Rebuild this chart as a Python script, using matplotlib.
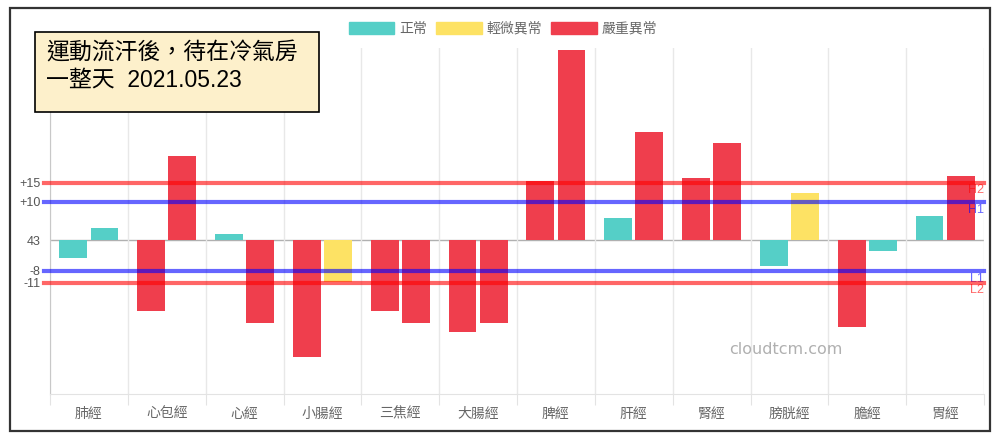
import numpy as np
import matplotlib
matplotlib.use('Agg')
import matplotlib.pyplot as plt
from matplotlib.patches import Rectangle, Patch
from matplotlib.transforms import blended_transform_factory

plt.rcParams['font.family'] = ['Liberation Sans', 'Noto Sans CJK TC', 'DejaVu Sans']

# meridian names and the two readings per meridian
meridians = ['肺經', '心包經', '心經', '小腸經', '三焦經', '大腸經',
             '脾經', '肝經', '腎經', '膀胱經', '膽經', '胃經']
left_values = [-4.5, -18.3, 1.6, -30.5, -18.4, -24.0, 15.4, 5.8, 16.3, -6.8, -22.7, 6.3]
right_values = [3.3, 21.8, -21.5, -10.9, -21.6, -21.6, 49.5, 28.2, 25.4, 12.4, -2.7, 16.6]
# 0 = 正常, 1 = 輕微異常, 2 = 嚴重異常
left_status = [0, 2, 0, 2, 2, 2, 2, 0, 2, 0, 2, 0]
right_status = [0, 2, 2, 1, 2, 2, 2, 2, 2, 1, 0, 2]

status_names = ['正常', '輕微異常', '嚴重異常']
status_colors = ['#55cfc7', '#fde264', '#ef3e4d']

ref_values = [15, 10, -8, -11]
ref_names = ['H2', 'H1', 'L1', 'L2']
ref_colors = ['#ff0000', '#0000ff', '#0000ff', '#ff0000']
ytick_values = [15, 10, 0, -8, -11]
ytick_labels = ['+15', '+10', '43', '-8', '-11']

title_text = '運動流汗後，待在冷氣房\n一整天  2021.05.23'

fig = plt.figure(figsize=(10, 4.43), dpi=100)
ax = fig.add_axes([0.05, 0.1106, 0.934, 0.781])

x = np.arange(len(meridians))
ax.bar(x - 0.2, left_values, width=0.356,
       color=[status_colors[s] for s in left_status], zorder=2)
ax.bar(x + 0.2, right_values, width=0.356,
       color=[status_colors[s] for s in right_status], zorder=2)

ax.set_xlim(-0.5, len(meridians) - 0.5)
ax.set_ylim(-40, 50)

# zero line
ax.axhline(0, color='#b0b0b0', lw=1, zorder=1)

# reference lines with labels
tr = blended_transform_factory(ax.transAxes, ax.transData)
for v, name, c in zip(ref_values, ref_names, ref_colors):
    ax.plot([-0.0064, 1.0], [v, v], color=c, alpha=0.6, lw=3,
            transform=tr, clip_on=False, zorder=3)
    ax.text(1.0, v - 0.5, name, color=c, alpha=0.6, fontsize=9,
            ha='right', va='top', transform=tr, zorder=3)

# x axis: grid lines at category boundaries, labels at centres
ax.set_xticks(np.arange(-0.5, len(meridians), 1))
ax.set_xticklabels([])
ax.tick_params(axis='x', which='major', length=8, color='#e3e3e3')
ax.set_xticks(x, minor=True)
ax.set_xticklabels(meridians, minor=True, fontsize=10, color='#666666')
ax.tick_params(axis='x', which='minor', length=0, pad=9)
ax.grid(axis='x', which='major', color='#e8e8e8', lw=1, zorder=0)

ax.set_yticks(ytick_values)
ax.set_yticklabels(ytick_labels, fontsize=9, color='#555555')
ax.tick_params(axis='y', length=0, pad=7)

for s in ['top', 'right']:
    ax.spines[s].set_visible(False)
ax.spines['left'].set_color('#c8c8c8')
ax.spines['bottom'].set_color('#e3e3e3')

# watermark
ax.text(786 / 1000, 1 - 350 / 443, 'cloudtcm.com', transform=fig.transFigure,
        fontsize=11.5, color='#b0b0b0', family='DejaVu Sans',
        ha='center', va='center')

# legend
handles = [Patch(facecolor=c, edgecolor=c) for c in status_colors]
leg = fig.legend(handles, status_names, loc='center', ncol=3,
                 bbox_to_anchor=(0.503, 1 - 28.5 / 443), frameon=False,
                 fontsize=10, handlelength=3.3, handleheight=1.0,
                 handletextpad=0.35, columnspacing=0.65)
for t in leg.get_texts():
    t.set_color('#666666')

# title box
fig.patches.append(Rectangle((35 / 1000, 1 - 112 / 443), 284 / 1000, 80 / 443,
                             transform=fig.transFigure, facecolor='#fdf0cb',
                             edgecolor='black', lw=1.2, zorder=5))
fig.text(46 / 1000, 1 - 42 / 443, title_text, fontsize=16.5, color='black',
         ha='left', va='top', linespacing=1.2, zorder=6)

# outer frame
fig.patches.append(Rectangle((10 / 1000, 1 - 431 / 443), 980 / 1000, 423 / 443,
                             transform=fig.transFigure, facecolor='none',
                             edgecolor='#333333', lw=1.6, zorder=7))

fig.savefig('out.png', dpi=100)
